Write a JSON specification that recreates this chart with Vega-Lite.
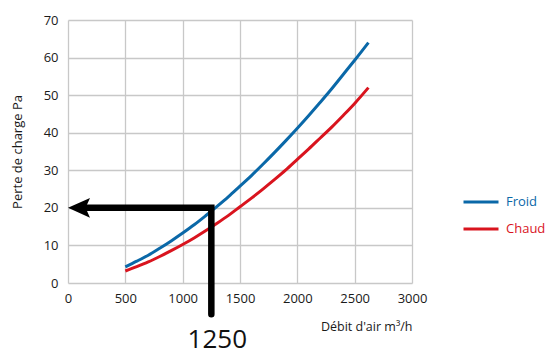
{
  "$schema": "https://vega.github.io/schema/vega-lite/v6.json",
  "width": 344,
  "height": 263,
  "autosize": {"type": "none"},
  "padding": {"left": 68, "top": 20, "right": 133, "bottom": 67},
  "background": "white",
  "config": {
    "font": "Open Sans",
    "view": {"stroke": null},
    "axis": {"labelFont": "Open Sans", "titleFont": "Open Sans", "labelColor": "#1a1a1a", "titleColor": "#1a1a1a", "labelFontSize": 13, "titleFontSize": 12.5, "titleFontWeight": "normal", "gridColor": "#c8c8c8", "gridWidth": 1.3, "domain": false, "ticks": false, "labelOverlap": false, "labelFlush": false, "format": "d"}
  },
  "datasets": {
    "curves": [
      {"debit": 500, "perte": 4.3, "serie": "Froid"},
      {"debit": 600, "perte": 5.8, "serie": "Froid"},
      {"debit": 700, "perte": 7.4, "serie": "Froid"},
      {"debit": 800, "perte": 9.25, "serie": "Froid"},
      {"debit": 900, "perte": 11.2, "serie": "Froid"},
      {"debit": 1000, "perte": 13.3, "serie": "Froid"},
      {"debit": 1100, "perte": 15.5, "serie": "Froid"},
      {"debit": 1200, "perte": 17.9, "serie": "Froid"},
      {"debit": 1300, "perte": 20.4, "serie": "Froid"},
      {"debit": 1400, "perte": 23.0, "serie": "Froid"},
      {"debit": 1500, "perte": 25.8, "serie": "Froid"},
      {"debit": 1600, "perte": 28.6, "serie": "Froid"},
      {"debit": 1700, "perte": 31.6, "serie": "Froid"},
      {"debit": 1800, "perte": 34.7, "serie": "Froid"},
      {"debit": 1900, "perte": 37.9, "serie": "Froid"},
      {"debit": 2000, "perte": 41.2, "serie": "Froid"},
      {"debit": 2100, "perte": 44.6, "serie": "Froid"},
      {"debit": 2200, "perte": 48.1, "serie": "Froid"},
      {"debit": 2300, "perte": 51.7, "serie": "Froid"},
      {"debit": 2400, "perte": 55.5, "serie": "Froid"},
      {"debit": 2500, "perte": 59.3, "serie": "Froid"},
      {"debit": 2620, "perte": 64.0, "serie": "Froid"},
      {"debit": 500, "perte": 3.2, "serie": "Chaud"},
      {"debit": 600, "perte": 4.35, "serie": "Chaud"},
      {"debit": 700, "perte": 5.6, "serie": "Chaud"},
      {"debit": 800, "perte": 7.05, "serie": "Chaud"},
      {"debit": 900, "perte": 8.6, "serie": "Chaud"},
      {"debit": 1000, "perte": 10.25, "serie": "Chaud"},
      {"debit": 1100, "perte": 12.0, "serie": "Chaud"},
      {"debit": 1200, "perte": 13.9, "serie": "Chaud"},
      {"debit": 1300, "perte": 15.9, "serie": "Chaud"},
      {"debit": 1400, "perte": 18.0, "serie": "Chaud"},
      {"debit": 1500, "perte": 20.3, "serie": "Chaud"},
      {"debit": 1600, "perte": 22.6, "serie": "Chaud"},
      {"debit": 1700, "perte": 25.0, "serie": "Chaud"},
      {"debit": 1800, "perte": 27.5, "serie": "Chaud"},
      {"debit": 1900, "perte": 30.1, "serie": "Chaud"},
      {"debit": 2000, "perte": 32.9, "serie": "Chaud"},
      {"debit": 2100, "perte": 35.7, "serie": "Chaud"},
      {"debit": 2200, "perte": 38.6, "serie": "Chaud"},
      {"debit": 2300, "perte": 41.5, "serie": "Chaud"},
      {"debit": 2400, "perte": 44.6, "serie": "Chaud"},
      {"debit": 2500, "perte": 47.8, "serie": "Chaud"},
      {"debit": 2620, "perte": 52.0, "serie": "Chaud"}
    ],
    "fleche": [
      {"debit": 1250, "perte": -8.3, "ordre": 1},
      {"debit": 1250, "perte": 20, "ordre": 2},
      {"debit": 150, "perte": 20, "ordre": 3}
    ],
    "pointe": [{"debit": 0, "perte": 20}],
    "etiquette": [{"debit": 1250, "perte": -17.3, "texte": "1250"}]
  },
  "encoding": {
    "x": {"field": "debit", "type": "quantitative", "scale": {"domain": [0, 3000], "nice": false}, "axis": {"values": [0, 500, 1000, 1500, 2000, 2500, 3000], "title": "Débit d'air m³/h", "titleAnchor": "end", "titlePadding": 15, "labelPadding": 9}},
    "y": {"field": "perte", "type": "quantitative", "scale": {"domain": [0, 70], "nice": false}, "axis": {"values": [0, 10, 20, 30, 40, 50, 60, 70], "title": "Perte de charge Pa", "titlePadding": 19, "labelPadding": 10, "titleFontSize": 13}}
  },
  "layer": [
    {
      "data": {"name": "curves"},
      "mark": {"type": "line", "strokeWidth": 3, "interpolate": "monotone"},
      "encoding": {
        "color": {"field": "serie", "type": "nominal", "scale": {"domain": ["Froid", "Chaud"], "range": ["#0a68a8", "#d9141e"]},
          "legend": {"title": null, "orient": "none", "legendX": 394, "legendY": 163, "symbolType": "stroke", "symbolSize": 1225, "symbolStrokeWidth": 3, "labelFontSize": 13, "labelFont": "Open Sans", "rowPadding": 1, "labelOffset": 6,
            "encode": {"labels": {"update": {"fill": {"scale": "color", "field": "value"}}}}}}
      }
    },
    {
      "data": {"name": "fleche"},
      "mark": {"type": "line", "color": "black", "strokeWidth": 6.5, "strokeCap": "round", "strokeJoin": "miter", "clip": false},
      "encoding": {
        "order": {"field": "ordre", "type": "quantitative"}
      }
    },
    {
      "data": {"name": "pointe"},
      "mark": {"type": "point", "filled": true, "color": "black", "opacity": 1, "shape": "M0,0L1,-0.45L0.8,0L1,0.45Z", "size": 1936},
      "encoding": {}
    },
    {
      "data": {"name": "etiquette"},
      "mark": {"type": "text", "fontSize": 26, "font": "Open Sans", "color": "#111", "baseline": "alphabetic", "align": "center", "dx": 6},
      "encoding": {
        "text": {"field": "texte"}
      }
    }
  ]
}
